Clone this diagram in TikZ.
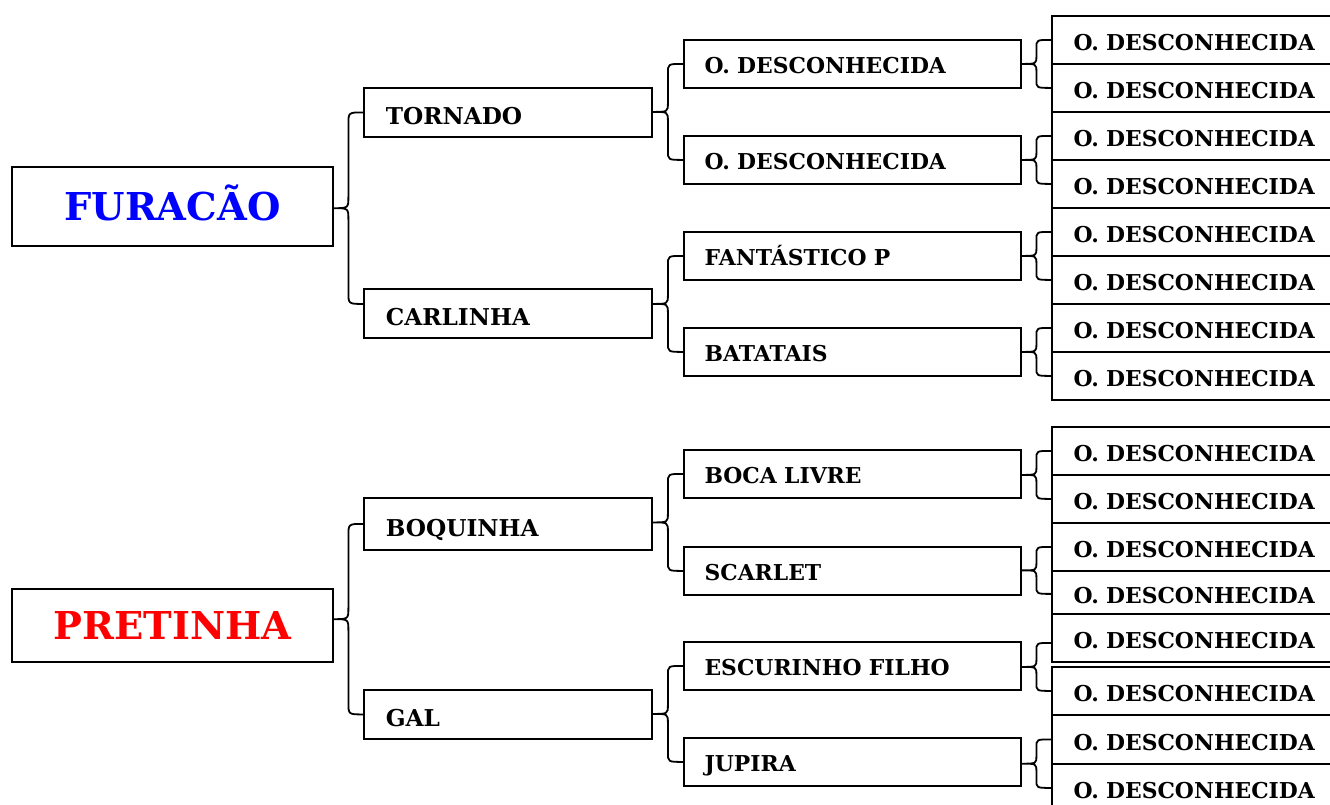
\documentclass[tikz,border=0pt]{standalone}
\usepackage{fontspec}
\setmainfont{DejaVu Serif}
\usetikzlibrary{calc}
\newcommand\curly[4]{%
  \draw[conn] let \p1=#1, \p2=#2, \p3=#3,
    \p4=($(\p1)!0.5!(\p2)$), \p5=($(\p2)!0.5!(\p3)$) in
    (\p2) .. controls (\x4,\y2) .. (\x4,\y2-#4) -- (\x4,\y5+#4)
    .. controls (\x4,\y5) .. (\x1,\y5)
    .. controls (\x4,\y5) .. (\x4,\y5-#4) -- (\x4,\y3+#4)
    .. controls (\x4,\y3) .. (\p3);}
\begin{document}
\begin{tikzpicture}[x=0.75pt,y=-0.75pt,
  conn/.style={line width=1.35pt, line join=round},
  box/.style={draw, line width=1.35pt, inner ysep=0pt, anchor=north west,
    text depth=0pt, align=left},
  rootbox/.style={draw, line width=1.35pt, inner sep=0pt, anchor=north west,
    font=\bfseries\fontsize{28.8}{32}\selectfont, minimum width=240.75pt,
    text height=21pt, text depth=0pt, align=center},
  one/.style={box, font=\bfseries\fontsize{17.4}{20}\selectfont,
    inner xsep=16.5pt, text width=183pt, minimum height=36.75pt, text height=18.7pt},
  two/.style={box, font=\bfseries\fontsize{16.4}{19}\selectfont,
    inner xsep=15.5pt, text width=221.75pt, minimum height=36pt, text height=15pt},
  three/.style={box, font=\bfseries\fontsize{16.4}{19}\selectfont,
    inner xsep=16.2pt, text width=267.6pt, minimum height=36pt, text height=16.5pt},
]
\useasboundingbox (0,0) rectangle (1330,804);
\clip (0,0) rectangle (1330,804);

% roots
\node[rootbox, minimum height=59.25pt, text=blue] (FUR) at (11,166) {FURACÃO};
\node[rootbox, minimum height=54.75pt, text=red] (PRE) at (11,588) {PRETINHA};

% level 1
\node[one] (TOR) at (363,87) {TORNADO};
\node[one] (CAR) at (363,288) {CARLINHA};
\node[one, minimum height=39pt] (BOQ) at (363,497) {BOQUINHA};
\node[one] (GAL) at (363,689) {GAL};

% level 2
\node[two] (D1) at (683,39) {O. DESCONHECIDA};
\node[two] (D2) at (683,135) {O. DESCONHECIDA};
\node[two] (FAN) at (683,231) {FANTÁSTICO P};
\node[two] (BAT) at (683,327) {BATATAIS};
\node[two] (BOC) at (683,449) {BOCA LIVRE};
\node[two] (SCA) at (683,546) {SCARLET};
\node[two] (ESC) at (683,641) {ESCURINHO FILHO};
\node[two] (JUP) at (683,737) {JUPIRA};

% level 3
\node[three] (a1) at (1051,15) {O. DESCONHECIDA};
\node[three] (a2) at (1051,63) {O. DESCONHECIDA};
\node[three] (a3) at (1051,111) {O. DESCONHECIDA};
\node[three] (a4) at (1051,159) {O. DESCONHECIDA};
\node[three] (a5) at (1051,207) {O. DESCONHECIDA};
\node[three] (a6) at (1051,255) {O. DESCONHECIDA};
\node[three] (a7) at (1051,303) {O. DESCONHECIDA};
\node[three] (a8) at (1051,351) {O. DESCONHECIDA};
\node[three] (a9) at (1051,426) {O. DESCONHECIDA};
\node[three] (a10) at (1051,474) {O. DESCONHECIDA};
\node[three] (a11) at (1051,522) {O. DESCONHECIDA};
\node[three, minimum height=32.25pt] (a12) at (1051,570) {O. DESCONHECIDA};
\node[three] (a13) at (1051,613) {O. DESCONHECIDA};
\node[three] (a14) at (1051,666) {O. DESCONHECIDA};
\node[three, minimum height=36.75pt] (a15) at (1051,714) {O. DESCONHECIDA};
\node[three] (a16) at (1051,763) {O. DESCONHECIDA};

% braces
\curly{(FUR.east)}{(TOR.west)}{([yshift=7.1pt]CAR.west)}{9pt}
\curly{(PRE.east)}{(BOQ.west)}{(GAL.west)}{9pt}
\curly{(TOR.east)}{(D1.west)}{(D2.west)}{7pt}
\curly{(CAR.east)}{(FAN.west)}{(BAT.west)}{7pt}
\curly{(BOQ.east)}{(BOC.west)}{(SCA.west)}{7pt}
\curly{(GAL.east)}{(ESC.west)}{(JUP.west)}{7pt}
\curly{(D1.east)}{(a1.west)}{(a2.west)}{6pt}
\curly{(D2.east)}{(a3.west)}{(a4.west)}{6pt}
\curly{(FAN.east)}{(a5.west)}{(a6.west)}{6pt}
\curly{(BAT.east)}{(a7.west)}{(a8.west)}{6pt}
\curly{(BOC.east)}{(a9.west)}{(a10.west)}{6pt}
\curly{(SCA.east)}{(a11.west)}{([yshift=-1.1pt]a12.west)}{6pt}
\curly{(ESC.east)}{([yshift=-3.75pt]a13.west)}{(a14.west)}{6pt}
\curly{(JUP.east)}{(a15.west)}{(a16.west)}{6pt}
\end{tikzpicture}
\end{document}
